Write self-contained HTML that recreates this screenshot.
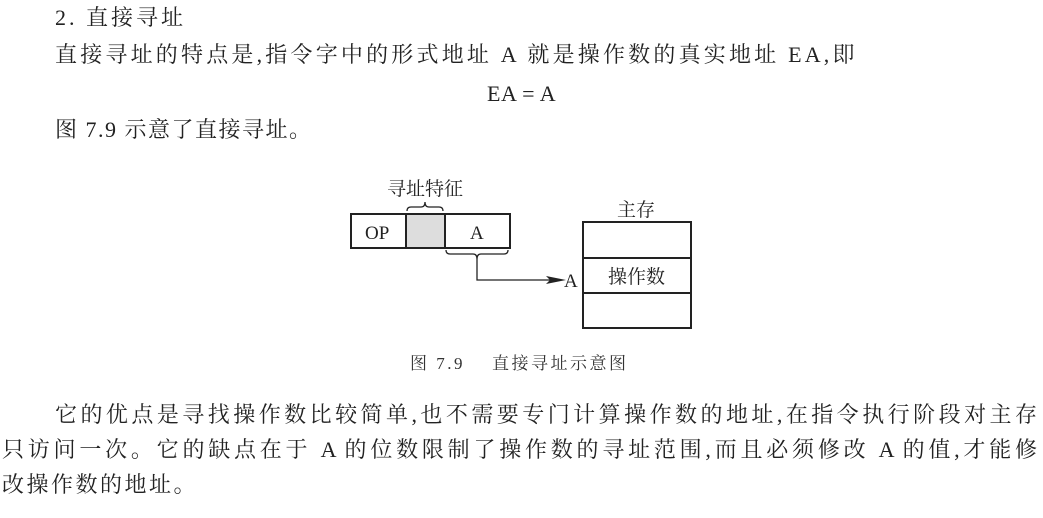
<!DOCTYPE html>
<html><head><meta charset="utf-8"><style>
body{margin:0;width:1043px;height:518px;background:#fff;position:relative;overflow:hidden;font-family:"Liberation Serif","Noto Serif CJK SC",serif;color:#222}
.t{position:absolute;white-space:nowrap;font-size:22px;line-height:26px;letter-spacing:2px}
.j{text-align:justify;text-align-last:justify;letter-spacing:0}
</style></head><body>
<div class="t" style="left:55px;top:5px;letter-spacing:3px">2. 直接寻址</div>
<div class="t" style="left:55px;top:42px;letter-spacing:3.2px">直接寻址的特点是,指令字中的形式地址 A 就是操作数的真实地址 EA,即</div>
<div class="t" style="left:487px;top:81px;letter-spacing:0.5px">EA = A</div>
<div class="t" style="left:55px;top:117px;letter-spacing:1.5px">图 7.9 示意了直接寻址。</div>

<svg style="position:absolute;left:0;top:0" width="1043" height="518">
<g stroke="#222" fill="none">
<rect x="351" y="214" width="159" height="34" stroke-width="2"/>
<rect x="406" y="215" width="39" height="32" fill="#ddd" stroke="none"/>
<line x1="406" y1="214" x2="406" y2="248" stroke-width="2"/>
<line x1="445" y1="214" x2="445" y2="248" stroke-width="2"/>
<path d="M407 211 q0 -4 4 -4 h10 q4 0 4 -5 q0 5 4 5 h10 q4 0 4 4" stroke-width="1.3"/>
<path d="M446 250 q0 4 4 4 h23 q4 0 4 5 q0 -5 4 -5 h23 q4 0 4 -4" stroke-width="1.3"/>
<path d="M477 259 V280 H556" stroke-width="1.3"/>
<rect x="583" y="222" width="108" height="106" stroke-width="2"/>
<line x1="583" y1="258" x2="691" y2="258" stroke-width="2"/>
<line x1="583" y1="293" x2="691" y2="293" stroke-width="2"/>
</g>
<path d="M566 280 L546 276 L550 280 L546 284 Z" fill="#222"/>
<g font-family="Liberation Serif,Noto Serif CJK SC,serif" font-size="19" fill="#222">
<text x="365" y="239">OP</text>
<text x="470" y="239">A</text>
<text x="564" y="287">A</text>
<text x="608" y="283">操作数</text>
<text x="617" y="216">主存</text>
<text x="387" y="195">寻址特征</text>
</g>
<text x="410" y="369" font-family="Liberation Serif,Noto Serif CJK SC,serif" font-size="17" letter-spacing="2.5" fill="#333" xml:space="preserve">图 7.9    直接寻址示意图</text>
</svg>

<div class="t j" style="left:55px;top:402px;width:982px">它的优点是寻找操作数比较简单,也不需要专门计算操作数的地址,在指令执行阶段对主存</div>
<div class="t j" style="left:2px;top:437px;width:1035px">只访问一次。它的缺点在于 A 的位数限制了操作数的寻址范围,而且必须修改 A 的值,才能修</div>
<div class="t" style="left:2px;top:472px;letter-spacing:2.5px">改操作数的地址。</div>
</body></html>
